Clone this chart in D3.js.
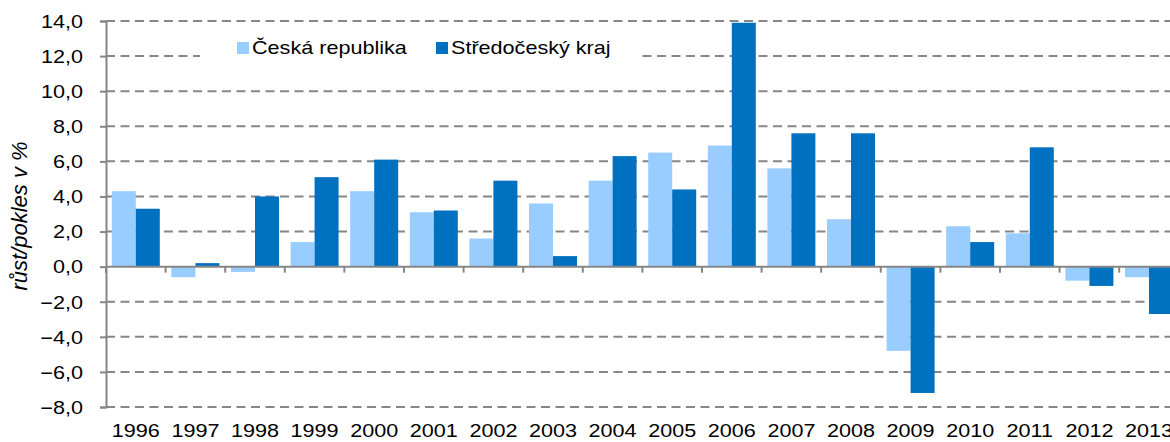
<!DOCTYPE html>
<html><head><meta charset="utf-8">
<script src="https://cdn.jsdelivr.net/npm/d3@7"></script>
<style>body{margin:0;background:#fff;overflow:hidden}svg{display:block}text{font-family:"Liberation Sans",Arial,sans-serif;fill:#000}</style>
</head><body><svg id="c" width="1170" height="442"></svg>
<script>
const years = ["1996","1997","1998","1999","2000","2001","2002","2003","2004","2005","2006","2007","2008","2009","2010","2011","2012","2013"];
const seriesNames = ["Česká republika","Středočeský kraj"];
const cr = [4.3,-0.6,-0.3,1.4,4.3,3.1,1.6,3.6,4.9,6.5,6.9,5.6,2.7,-4.8,2.3,1.9,-0.8,-0.6];
const sk = [3.3,0.2,4.0,5.1,6.1,3.2,4.9,0.6,6.3,4.4,13.9,7.6,7.6,-7.2,1.4,6.8,-1.1,-2.7];
const yTicks = [-8,-6,-4,-2,0,2,4,6,8,10,12,14];
const colors = ["#99CCFF","#0070C0"];
const yTitle = "růst/pokles v %";

(function(){
const svg = d3.select("#c");
const pL = 106, pR = 1178.8, pT = 21, pB = 407;
const SX = 1.2; // horizontal text stretch
const y = d3.scaleLinear().domain([-8,14]).range([pB, pT]);
const x0 = d3.scaleBand().domain(years).range([pL, pR]).paddingInner(0.195).paddingOuter(0.0975);
const x1 = d3.scaleBand().domain(seriesNames).range([0, x0.bandwidth()]);
const grid = "#868686";

svg.append("g").selectAll("line").data(yTicks.filter(t=>t!==0)).join("line")
  .attr("x1", pL).attr("x2", pR).attr("y1", d=>y(d)).attr("y2", d=>y(d))
  .attr("stroke", grid).attr("stroke-width", 2).attr("stroke-dasharray", "9,5.5");

const data = years.map((yr,i)=>({yr, vals:[cr[i], sk[i]]}));
const g = svg.append("g").selectAll("g").data(data).join("g")
  .attr("transform", d=>`translate(${x0(d.yr)},0)`);
g.selectAll("rect").data(d=>d.vals.map((v,j)=>({v, s:seriesNames[j], j}))).join("rect")
  .attr("x", d=>x1(d.s)).attr("width", x1.bandwidth())
  .attr("y", d=>y(Math.max(0,d.v))).attr("height", d=>Math.abs(y(d.v)-y(0)))
  .attr("fill", d=>colors[d.j]);

svg.append("line").attr("x1", pL).attr("x2", pR).attr("y1", y(0)).attr("y2", y(0))
  .attr("stroke", grid).attr("stroke-width", 2);
const step = x0.step();
svg.append("g").selectAll("line").data(years).join("line")
  .attr("x1", d=>x0(d) - step*x0.paddingInner()/2).attr("x2", d=>x0(d) - step*x0.paddingInner()/2)
  .attr("y1", y(0)).attr("y2", y(0)+6).attr("stroke", grid).attr("stroke-width", 2);

const yAxis = d3.axisLeft(y).tickValues(yTicks).tickSize(6).tickPadding(0)
  .tickFormat(d=>d3.format(".1f")(d).replace(".", ","));
const ya = svg.append("g").attr("transform", `translate(${pL},0)`).call(yAxis);
ya.select(".domain").attr("stroke", grid).attr("stroke-width", 2);
ya.selectAll(".tick line").attr("stroke", grid).attr("stroke-width", 2);
ya.selectAll(".tick text").attr("font-size", 18).attr("font-family", "Liberation Sans, Arial, sans-serif")
  .attr("x", -23/SX).attr("dy", "0.35em").attr("transform", `scale(${SX},1)`);

svg.append("g").selectAll("text").data(years).join("text")
  .attr("transform", d=>`translate(${x0(d)+x0.bandwidth()/2},437) scale(${SX},1)`)
  .attr("text-anchor", "middle").attr("font-size", 18).text(d=>d);

svg.append("text").attr("transform", "translate(27,216) rotate(-90)")
  .attr("text-anchor", "middle").attr("font-size", 22).attr("font-style", "italic").text(yTitle);

const lg = svg.append("g");
lg.append("rect").attr("x", 200).attr("y", 30).attr("width", 437).attr("height", 48).attr("fill", "#fff");
const lx = [237, 436];
seriesNames.forEach((s,i)=>{
  lg.append("rect").attr("x", lx[i]).attr("y", 42).attr("width", 12).attr("height", 12).attr("fill", colors[i]);
  lg.append("text").attr("transform", `translate(${lx[i]+15},54) scale(${SX},1)`).attr("font-size", 18).text(s);
});
})();
</script></body></html>
